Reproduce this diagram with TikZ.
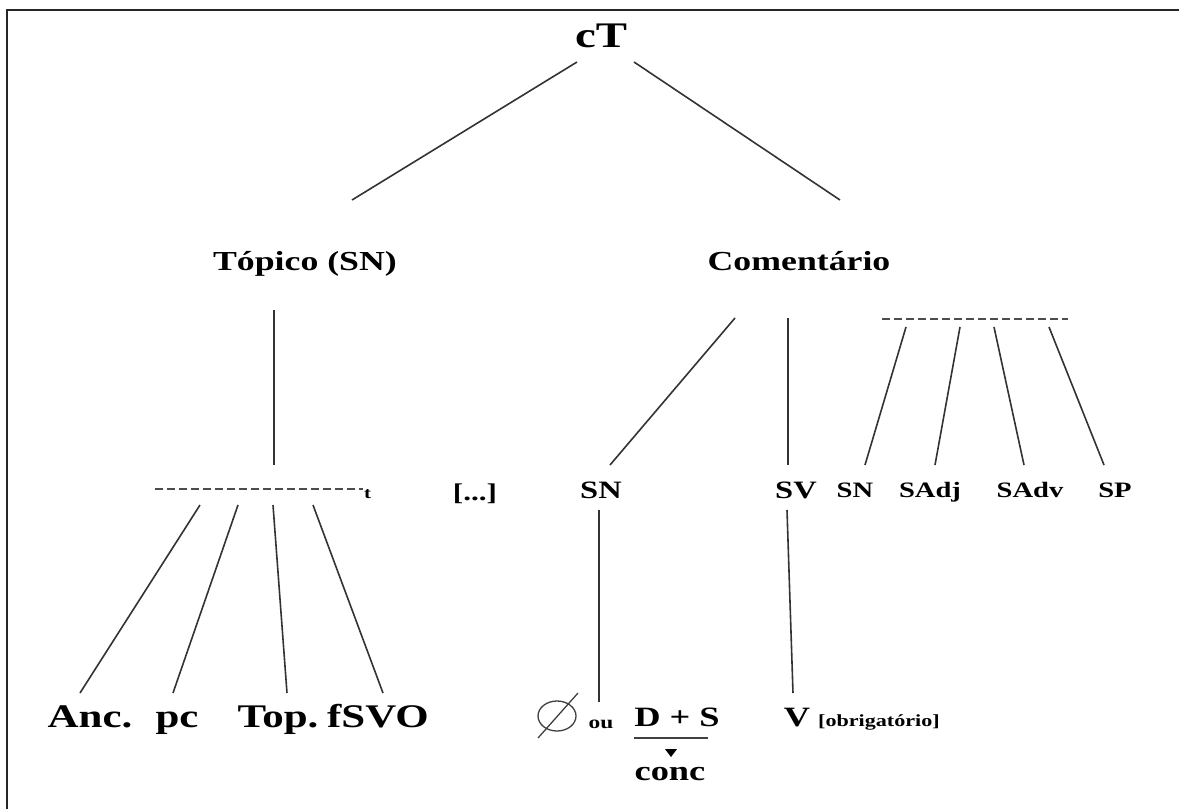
\documentclass[tikz,border=0pt]{standalone}
\usepackage{fontspec}
\setmainfont{Liberation Serif}[FakeStretch=1.3]
\begin{document}
\begin{tikzpicture}[x=1pt,y=-1pt,
  lbl/.style={inner sep=0pt,anchor=base,font=\bfseries},
  br/.style={line width=1.6pt,draw=black!80},
  dsh/.style={line width=1.8pt,draw=black!70,dash pattern=on 8pt off 4pt}]
\useasboundingbox (0,0) rectangle (1179,809);
% frame
\draw[line width=2.2pt,draw=black!85] (1179,10) -- (7,10) -- (7,809);
% labels
\node[lbl,font=\bfseries\fontsize{36}{36}\selectfont] (cT) at (601,47) {cT};
\node[lbl,font=\bfseries\fontsize{27.5}{28}\selectfont] (top) at (305,270) {Tópico (SN)};
\node[lbl,font=\bfseries\fontsize{27.5}{28}\selectfont] (com) at (799,270) {Comentário};
\node[lbl,font=\bfseries\fontsize{16}{16}\selectfont,anchor=base west] (t) at (364,498) {t};
\node[lbl,font=\bfseries\fontsize{24}{24}\selectfont] (dots) at (475,500) {[...]};
\node[lbl,font=\bfseries\fontsize{25}{25}\selectfont] (sn) at (601,498) {SN};
\node[lbl,font=\bfseries\fontsize{25}{25}\selectfont] (sv) at (796,498) {SV};
\node[lbl,font=\bfseries\fontsize{22}{22}\selectfont] (sn2) at (855,497) {SN};
\node[lbl,font=\bfseries\fontsize{22}{22}\selectfont] (sadj) at (930,497) {SAdj};
\node[lbl,font=\bfseries\fontsize{22}{22}\selectfont] (sadv) at (1030,497) {SAdv};
\node[lbl,font=\bfseries\fontsize{22}{22}\selectfont] (sp) at (1115,497) {SP};
\node[lbl,font=\bfseries\fontsize{33}{33}\selectfont] (anc) at (90,727) {Anc.};
\node[lbl,font=\bfseries\fontsize{33}{33}\selectfont] (pc) at (177,727) {pc};
\node[lbl,font=\bfseries\fontsize{33}{33}\selectfont] (topp) at (278,727) {Top.};
\node[lbl,font=\bfseries\fontsize{33}{33}\selectfont] (fsvo) at (378,727) {fSVO};
% empty-set sign
\coordinate (empty) at (557,716);
\draw[line width=1.3pt,draw=black!75] (empty) ellipse (19 and 15);
\draw[line width=1.3pt,draw=black!75] (538,738) -- (578,693);
\node[lbl,font=\bfseries\fontsize{18}{18}\selectfont] (ou) at (601,728) {ou};
\node[lbl,font=\bfseries\fontsize{28}{28}\selectfont] (ds) at (677,726) {D + S};
\node[lbl,font=\bfseries\fontsize{28}{28}\selectfont] (conc) at (670,780) {conc};
\node[lbl,font=\bfseries\fontsize{28}{28}\selectfont] (v) at (797,726) {V};
\node[lbl,font=\bfseries\fontsize{17}{17}\selectfont,anchor=base west] (obr) at (818,726) {[obrigatório]};
% coordinates
\coordinate (cTl) at (577,62); \coordinate (cTr) at (634,62);
\coordinate (topT) at (352,200); \coordinate (comT) at (840,200);
\coordinate (topB) at (274,310); \coordinate (topE) at (274,465);
\coordinate (dl1) at (155,489); \coordinate (dl2) at (363,489);
\coordinate (a1) at (200,505); \coordinate (a2) at (238,505); \coordinate (a3) at (273,505); \coordinate (a4) at (313,505);
\coordinate (b1) at (80,693); \coordinate (b2) at (173,693); \coordinate (b3) at (287,693); \coordinate (b4) at (383,693);
\coordinate (c1) at (735,318); \coordinate (c2) at (610,465);
\coordinate (c3) at (788,318); \coordinate (c4) at (788,465);
\coordinate (dr1) at (882,319); \coordinate (dr2) at (1068,319);
\coordinate (r1) at (906,327); \coordinate (r2) at (960,327); \coordinate (r3) at (994,327); \coordinate (r4) at (1049,327);
\coordinate (s1) at (865,465); \coordinate (s2) at (935,465); \coordinate (s3) at (1024,465); \coordinate (s4) at (1104,465);
\coordinate (snB) at (599,510); \coordinate (snE) at (599,702);
\coordinate (svB) at (787,510); \coordinate (svE) at (793,693);
\coordinate (u1) at (634,738); \coordinate (u2) at (708,738);
% connectors
\draw[br] (cTl) -- (topT);
\draw[br] (cTr) -- (comT);
\draw[br] (topB) -- (topE);
\draw[dsh] (dl1) -- (dl2);
\draw[br] (a1) -- (b1); \draw[br] (a2) -- (b2); \draw[br] (a3) -- (b3); \draw[br] (a4) -- (b4);
\draw[br] (c1) -- (c2);
\draw[br] (c3) -- (c4);
\draw[dsh] (dr1) -- (dr2);
\draw[br] (r1) -- (s1); \draw[br] (r2) -- (s2); \draw[br] (r3) -- (s3); \draw[br] (r4) -- (s4);
\draw[br] (snB) -- (snE);
\draw[br] (svB) -- (svE);
\draw[line width=2pt,draw=black!75] (u1) -- (u2);
\fill[black] (665,749) -- (677,749) -- (671,757) -- cycle;
\end{tikzpicture}
\end{document}
